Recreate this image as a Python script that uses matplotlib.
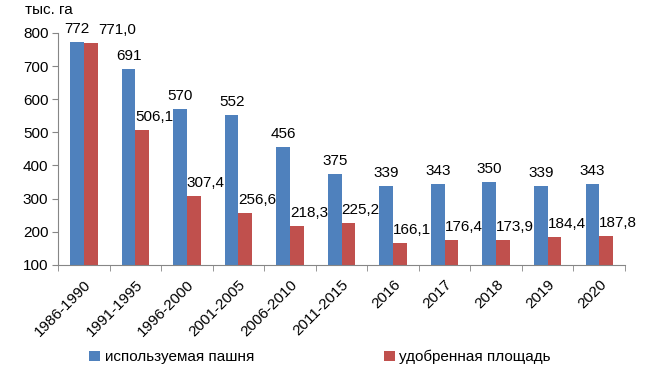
import numpy as np
import matplotlib.pyplot as plt

plt.rcParams['font.family'] = ['Liberation Sans', 'DejaVu Sans']

categories = ['1986-1990', '1991-1995', '1996-2000', '2001-2005', '2006-2010',
              '2011-2015', '2016', '2017', '2018', '2019', '2020']
used_arable = [772, 691, 570, 552, 456, 375, 339, 343, 350, 339, 343]
fertilized = [771.0, 506.1, 307.4, 256.6, 218.3, 225.2, 166.1, 176.4, 173.9, 184.4, 187.8]
used_labels = ['772', '691', '570', '552', '456', '375', '339', '343', '350', '339', '343']
fert_labels = ['771,0', '506,1', '307,4', '256,6', '218,3', '225,2', '166,1',
               '176,4', '173,9', '184,4', '187,8']

blue = '#4F81BD'
red = '#C0504D'

fig = plt.figure(figsize=(6.53, 3.70), dpi=100)
ax = fig.add_axes([0.089, 0.284, 0.868, 0.627])

x = np.arange(len(categories))
w = 0.265
b1 = ax.bar(x - w / 2, np.array(used_arable) - 100, w, bottom=100, color=blue,
            label='используемая пашня')
b2 = ax.bar(x + w / 2, np.array(fertilized) - 100, w, bottom=100, color=red,
            label='удобренная площадь')

fs = 11
for i in range(len(categories)):
    ax.annotate(used_labels[i], (x[i] - w / 2, used_arable[i]), xytext=(0, 6),
                textcoords='offset pixels', ha='center', va='bottom',
                fontsize=fs, annotation_clip=False)
    dx = 26 if i == 0 else 12
    ax.annotate(fert_labels[i], (x[i] + w / 2, fertilized[i]), xytext=(dx, 6),
                textcoords='offset pixels', ha='center', va='bottom',
                fontsize=fs, annotation_clip=False)

ax.set_xlim(-0.5, len(categories) - 0.5)
ax.set_ylim(100, 800)
ax.set_yticks(range(100, 801, 100))
ax.tick_params(axis='y', labelsize=fs, length=4, color='#868686', pad=3)

ax.set_xticks(x)
ax.set_xticklabels(categories, rotation=45, ha='right', rotation_mode='anchor',
                   fontsize=fs)
ax.tick_params(axis='x', length=0, pad=9)
ax.set_xticks(np.arange(-0.5, len(categories)), minor=True)
ax.tick_params(axis='x', which='minor', length=4, color='#868686')

for s in ['top', 'right']:
    ax.spines[s].set_visible(False)
for s in ['left', 'bottom']:
    ax.spines[s].set_color('#868686')

fig.text(0.038, 0.972, 'тыс. га', fontsize=fs, ha='left', va='center')

fig.legend(handles=[b1, b2], loc='center', bbox_to_anchor=(0.49, 0.035), ncol=2,
           frameon=False, fontsize=fs, handlelength=0.7, handleheight=0.7,
           handletextpad=0.3, columnspacing=8.5)

fig.savefig('out.png', dpi=100)
